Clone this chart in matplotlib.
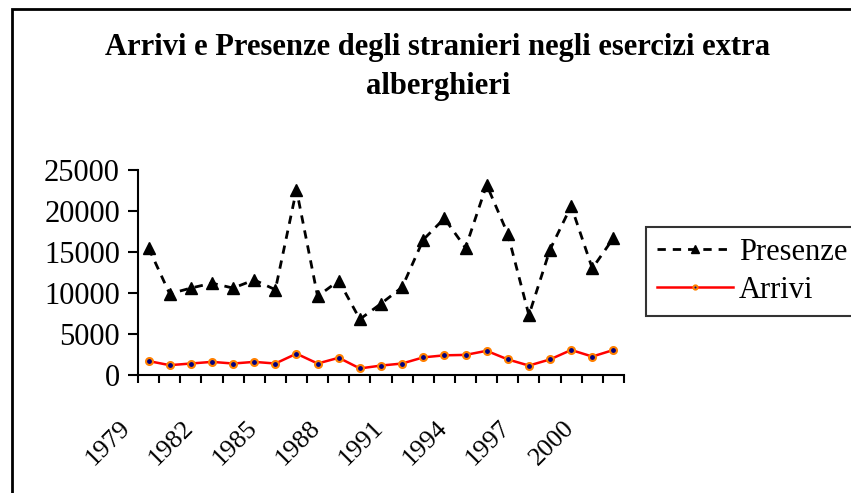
import matplotlib
matplotlib.use("Agg")
import matplotlib.pyplot as plt
import matplotlib.patches as mpatches
import matplotlib.transforms as mtransforms

plt.rcParams['font.family'] = ['Liberation Serif', 'DejaVu Serif']

# data
anni = list(range(1979, 2002))
presenze = [15500, 9900, 10600, 11200, 10600, 11600, 10400, 22600, 9600, 11500,
            6800, 8700, 10700, 16500, 19100, 15500, 23200, 17200, 7300, 15300,
            20600, 13000, 16700]
arrivi = [1700, 1200, 1400, 1600, 1400, 1600, 1400, 2600, 1400, 2100,
          800, 1150, 1400, 2150, 2400, 2450, 2950, 1900, 1150, 1900,
          3050, 2250, 3050]
titolo = "Arrivi e Presenze degli stranieri negli esercizi extra\nalberghieri"

W, H = 851, 493
fig = plt.figure(figsize=(W / 100, H / 100), dpi=100)
fig.patch.set_facecolor('white')

# chart area border (runs off the picture on right and bottom)
frame = mpatches.Rectangle((12 / W, -0.1), 1.2, 1 - 9 / H + 0.1,
                           transform=fig.transFigure, fill=False,
                           edgecolor='black', linewidth=2, clip_on=False)
fig.add_artist(frame)

ax = fig.add_axes([138 / W, 1 - 375 / H, (624 - 138) / W, (375 - 170) / H])
x = list(range(len(anni)))

ax.plot(x, presenze, color='black', linestyle=(0, (3, 2.5)), linewidth=2,
        marker='^', markersize=9, markerfacecolor='black',
        markeredgecolor='black', label='Presenze')
ax.plot(x, arrivi, color='#ff0000', linewidth=1.8,
        marker='o', markersize=5, markerfacecolor='#000080',
        markeredgecolor='#ff8000', markeredgewidth=1.5, label='Arrivi')

ax.set_xlim(-0.5, len(anni) - 0.5)
ax.set_ylim(0, 25000)
ax.set_yticks(range(0, 25001, 5000))

# category axis: ticks between categories, labels every 3 years
ax.set_xticks([i - 0.5 for i in range(len(anni) + 1)])
ax.set_xticklabels([])
ax.set_xticks(x[::3], minor=True)
ax.set_xticklabels([str(a) for a in anni[::3]], minor=True, rotation=45,
                   ha='right', va='top')
ax.tick_params(axis='x', which='minor', length=0, pad=30, labelsize=19)
ax.tick_params(axis='x', which='major', direction='out', length=6, width=1.5)
ax.tick_params(axis='y', direction='out', length=7, width=1.5, labelsize=22, pad=6)
offset = mtransforms.ScaledTranslation(-0.14, 0, fig.dpi_scale_trans)
for lab in ax.get_xticklabels(minor=True):
    lab.set_transform(lab.get_transform() + offset)

for s in ['top', 'right']:
    ax.spines[s].set_visible(False)
for s in ['left', 'bottom']:
    ax.spines[s].set_linewidth(1.5)

fig.text(438 / W, 1 - 33 / H, titolo, ha='center', va='top', fontsize=22,
         fontweight='bold', linespacing=1.45)

leg = ax.legend(loc='upper left', bbox_to_anchor=(646 / W, 1 - 227 / H),
                bbox_transform=fig.transFigure, borderaxespad=0,
                fontsize=22, frameon=True, fancybox=False, handlelength=2.5,
                handletextpad=0.2, borderpad=0.35, labelspacing=0.3,
                markerscale=0.6)
leg.get_frame().set_edgecolor('black')
leg.get_frame().set_linewidth(1.5)

fig.savefig('out.png', dpi=100)
